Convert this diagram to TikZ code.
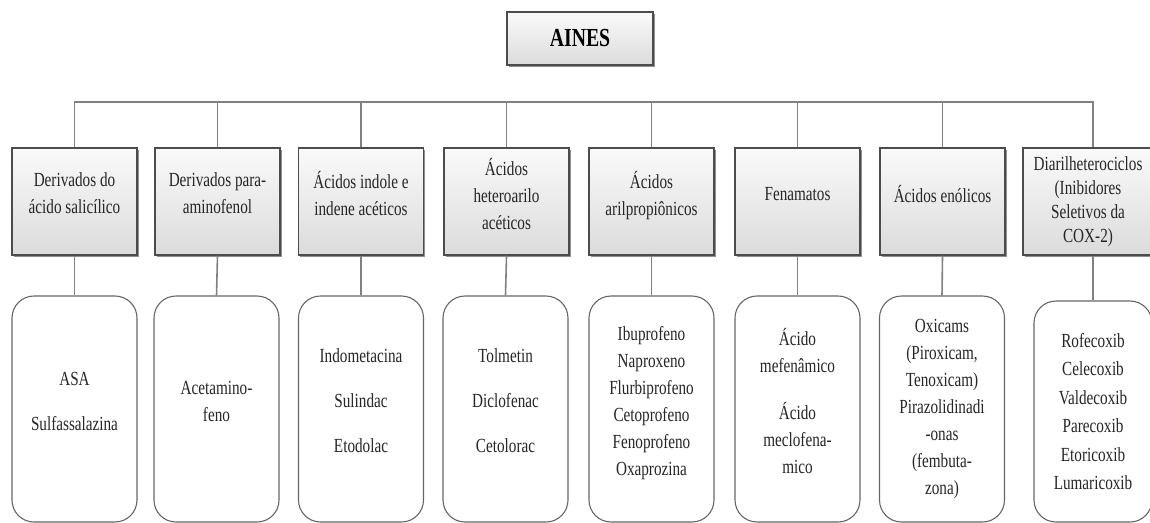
\documentclass[tikz,border=0pt]{standalone}
\usepackage{fontspec}
\setmainfont{Liberation Serif}[FakeStretch=0.76]
\usetikzlibrary{shadows}
\newcommand{\myliftline}{\\[-11pt]\mbox{}}
\tikzset{
  catbox/.style={draw=black!70, line width=1.1pt, top color=gray!4, bottom color=gray!28,
    minimum width=125pt, minimum height=107pt, align=center, inner sep=2pt,
    text=black!85, font=\fontsize{20}{27}\selectfont,
    drop shadow={shadow xshift=1.6pt, shadow yshift=-1.6pt, fill=black!55, opacity=0.8}},
  topbox/.style={catbox, minimum width=146pt, minimum height=53pt, text=black, font=\fontsize{26}{28}\selectfont\bfseries},
  listbox/.style={draw=black!60, line width=1.1pt, fill=white, rounded corners=22pt,
    minimum width=125pt, minimum height=226pt, align=center, inner sep=2pt,
    text=black!85, font=\fontsize{20}{27}\selectfont},
  conn/.style={draw=black!50, line width=1.6pt}
}
\begin{document}
\begin{tikzpicture}[x=1pt,y=-1pt]
\useasboundingbox (0,0) rectangle (1150,522);
\node[topbox] (aines) at (580,38.5) {AINES};
% categories
\node[catbox] (c1) at (74.5,201.5) {Derivados do\\ácido salicílico\myliftline};
\node[catbox] (c2) at (217.5,201.5) {Derivados para-\\aminofenol\myliftline};
\node[catbox] (c3) at (361,201.5) {Ácidos indole e\\indene acéticos\myliftline};
\node[catbox] (c4) at (506.5,201.5) {Ácidos\\heteroarilo\\acéticos\myliftline};
\node[catbox] (c5) at (651.5,201.5) {Ácidos\\arilpropiônicos\myliftline};
\node[catbox] (c6) at (797.5,201.5) {Fenamatos\myliftline};
\node[catbox] (c7) at (942.5,201.5) {Ácidos enólicos\myliftline};
\node[catbox, minimum width=130pt, font=\fontsize{20}{24}\selectfont] (c8) at (1088,201.5) {Diarilheterociclos\\(Inibidores\\Seletivos da\\COX-2)};
% lists
\node[listbox] (l1) at (74.5,409) {ASA\\[18pt]Sulfassalazina\myliftline};
\node[listbox] (l2) at (216.5,409) {Acetamino-\\feno\myliftline};
\node[listbox] (l3) at (361,409) {Indometacina\\[18pt]Sulindac\\[18pt]Etodolac\myliftline};
\node[listbox] (l4) at (505.5,409) {Tolmetin\\[18pt]Diclofenac\\[18pt]Cetolorac\myliftline};
\node[listbox] (l5) at (651.5,409) {Ibuprofeno\\Naproxeno\\Flurbiprofeno\\Cetoprofeno\\Fenoprofeno\\Oxaprozina\myliftline};
\node[listbox] (l6) at (797.5,409) {Ácido\\mefenâmico\\[20pt]Ácido\\meclofena-\\mico\myliftline};
\node[listbox] (l7) at (942,409) {Oxicams\\(Piroxicam,\\Tenoxicam)\\Pirazolidinadi\\-onas\\(fembuta-\\zona)};
\node[listbox, minimum width=118pt, minimum height=221pt, font=\fontsize{20}{28.4}\selectfont] (l8) at (1093,411.5) {Rofecoxib\\Celecoxib\\Valdecoxib\\Parecoxib\\Etoricoxib\\Lumaricoxib};
% connectors
\coordinate (d8) at ([xshift=5pt]c8.north);
\coordinate (b8) at ([xshift=5pt]c8.south);
\draw[conn] (c1.north) -- (c1.north |- 0,102) -- (d8 |- 0,102) -- (d8);
\foreach \i in {2,...,7} {\draw[conn] (c\i.north) -- (c\i.north |- 0,102);}
\foreach \i in {1,...,7} {\draw[conn] (c\i.south) -- (l\i.north);}
\draw[conn] (b8) -- (l8.north);
\end{tikzpicture}
\end{document}
